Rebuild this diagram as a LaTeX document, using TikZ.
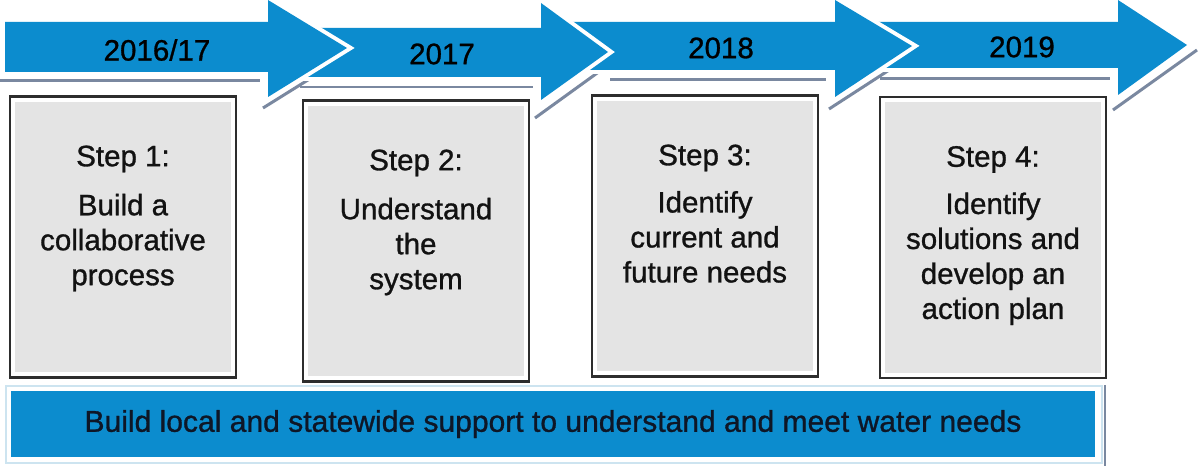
\documentclass[tikz,border=0pt]{standalone}
\usepackage{fontspec}
\setmainfont{Liberation Sans}
\newfontfamily\scanfont[FakeBold=1.0]{Liberation Sans}
\usepackage{tikz}
\usetikzlibrary{positioning}
\definecolor{stepblue}{RGB}{12,140,206}
\definecolor{shadowgray}{RGB}{122,136,160}
\definecolor{boxgray}{RGB}{228,228,228}
\definecolor{boxline}{RGB}{45,45,45}
\definecolor{barline}{RGB}{205,228,240}
\definecolor{bartext}{RGB}{14,22,38}
\tikzset{
  timearrow/.style={
    fill=stepblue, preaction={draw=white, line width=0.16cm, line join=miter, miter limit=10}
  },
  shadowline/.style={
    draw=shadowgray, line width=0.06cm
  },
  yeartext/.style={
    inner sep=0pt, text=black, font=\scanfont\fontsize{16.8}{19.9}\selectfont
  },
  stepbox/.style={
    rectangle, draw=boxline, line width=0.05cm, fill=white,
    minimum width=4.52cm, minimum height=5.62cm,
    path picture={\fill[boxgray] ([shift={(0.1cm,0.1cm)}]path picture bounding box.south west)
      rectangle ([shift={(-0.1cm,-0.1cm)}]path picture bounding box.north east);}
  },
  steptext/.style={
    align=center, inner sep=0pt, text=black!93, font=\scanfont\fontsize{16.8}{19.9}\selectfont
  },
  supportbar/.style={
    rectangle, fill=stepblue, inner sep=0pt, minimum width=21.68cm, minimum height=1.34cm,
    text=bartext, font=\scanfont\fontsize{17.1}{19.9}\selectfont
  }
}

\begin{document}
\begin{tikzpicture}[x=0.02cm, y=-0.02cm]

    \useasboundingbox[fill=white] (0,0) rectangle (1199,466);

    % Ombres
    \draw[shadowline] (0,81) -- (260,81);
    \draw[shadowline] (263,108) -- (340,60);
    \draw[shadowline] (300,87) -- (533,87);
    \draw[shadowline] (535,118) -- (600,71);
    \draw[shadowline] (610,80) -- (826,80);
    \draw[shadowline] (829,109) -- (900,63);
    \draw[shadowline] (880,79) -- (1110,79);
    \draw[shadowline] (1113,110) -- (1197,50);

    % Fleches du calendrier
    \fill[timearrow] (850,22) -- (1118,22) -- (1118,0) -- (1187,45) -- (1118,95) -- (1118,68) -- (850,68) -- cycle;
    \fill[timearrow] (555,22) -- (835,22) -- (835,0) -- (912,46) -- (835,97) -- (835,70) -- (555,70) -- cycle;
    \fill[timearrow] (285,28) -- (541,28) -- (541,3) -- (608,52) -- (541,100) -- (541,77) -- (285,77) -- cycle;
    \fill[timearrow] (5,22) -- (268,22) -- (268,0) -- (347,48) -- (268,97) -- (268,72) -- (5,72) -- cycle;

    % Annees
    \node[yeartext] (yr1) at (157,50) {2016/17};
    \node[yeartext] (yr2) at (442,54) {2017};
    \node[yeartext] (yr3) at (721,48) {2018};
    \node[yeartext] (yr4) at (1022,47) {2019};

    % Etapes
    \node[stepbox] (box1) at (123,237) {};
    \node[stepbox] (box2) at (416,241) {};
    \node[stepbox] (box3) at (705,236) {};
    \node[stepbox] (box4) at (993,237.5) {};

    \node[steptext, below=1.0cm of box1.north] (txt1) {Step 1:\\[8pt] Build a\\ collaborative\\ process};
    \node[steptext, below=1.0cm of box2.north] (txt2) {Step 2:\\[8pt] Understand\\ the\\ system};
    \node[steptext, below=1.0cm of box3.north] (txt3) {Step 3:\\[7pt] Identify\\ current and\\ future needs};
    \node[steptext, below=1.0cm of box4.north] (txt4) {Step 4:\\[7pt] Identify\\ solutions and\\ develop an\\ action plan};

    % Soutien
    \draw[barline, line width=0.04cm] (6,386) rectangle (1102,463);
    \draw[shadowgray, line width=0.03cm] (1105,385) -- (1105,466);
    \node[supportbar] (support) at (553,424) {Build local and statewide support to understand and meet water needs};

\end{tikzpicture}
\end{document}
